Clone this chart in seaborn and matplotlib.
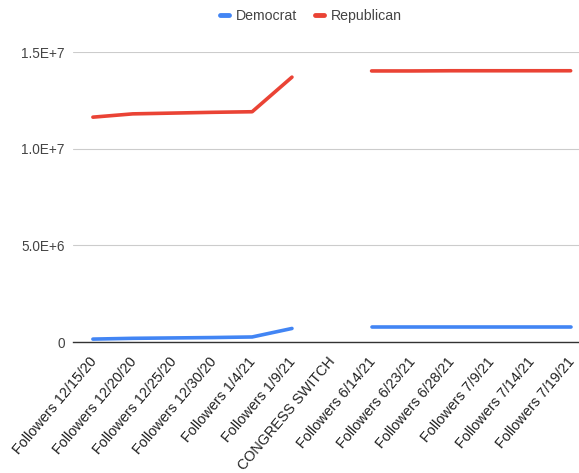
## Followers by party, before and after the congress switch

## Imports
import numpy as np
import pandas as pd
import seaborn as sns
import matplotlib.pyplot as plt
from matplotlib.ticker import FixedLocator

## Data
categories = ['Followers 12/15/20', 'Followers 12/20/20', 'Followers 12/25/20',
              'Followers 12/30/20', 'Followers 1/4/21', 'Followers 1/9/21',
              'CONGRESS SWITCH', 'Followers 6/14/21', 'Followers 6/23/21',
              'Followers 6/28/21', 'Followers 7/9/21', 'Followers 7/14/21',
              'Followers 7/19/21']
democrat = [0.15e6, 0.19e6, 0.21e6, 0.23e6, 0.26e6, 0.70e6, np.nan,
            0.78e6, 0.78e6, 0.78e6, 0.78e6, 0.78e6, 0.78e6]
republican = [11.63e6, 11.80e6, 11.84e6, 11.88e6, 11.91e6, 13.70e6, np.nan,
              14.02e6, 14.02e6, 14.03e6, 14.03e6, 14.03e6, 14.03e6]
y_ticks = [0, 5e6, 10e6, 15e6]
y_labels = ['0', '5.0E+6', '1.0E+7', '1.5E+7']

## Long table, one unit per unbroken stretch so the gap stays open
rows = []
for party, vals in [('Democrat', democrat), ('Republican', republican)]:
    seg = 0
    for i, v in enumerate(vals):
        if np.isnan(v):
            seg += 1
            continue
        rows.append({'pos': i, 'value': v, 'party': party, 'seg': party + str(seg)})
df = pd.DataFrame(rows)

sns.set_style('white')
plt.rcParams['font.family'] = ['Liberation Sans', 'DejaVu Sans']

fig = plt.figure(figsize=(5.79, 4.73), dpi=100)
ax = fig.add_axes([73 / 579, 1 - 342 / 473, 1 - 73 / 579, (342 - 52) / 473])

sns.lineplot(data=df, x='pos', y='value', hue='party', units='seg',
             estimator=None, palette={'Democrat': '#4285F4', 'Republican': '#EA4335'},
             linewidth=2.6, ax=ax, legend=False)

## category bands ~39.8px wide, the last one cut off by the right edge
ax.set_xlim(-0.5, 12.21)
ax.set_ylim(0, 15e6)
ax.yaxis.set_major_locator(FixedLocator(y_ticks))
ax.set_yticklabels(y_labels, fontsize=9.8, color='#444444')
## ticks are hidden; nudge label anchors a touch left so the last one fits
ax.set_xticks(np.arange(len(categories)) - 0.1)
ax.set_xticklabels(categories, rotation=50, ha='right', rotation_mode='anchor',
                   fontsize=10.4, color='#222222')
ax.tick_params(axis='both', length=0, pad=6)
ax.tick_params(axis='x', pad=9)
ax.set_xlabel('')
ax.set_ylabel('')
ax.grid(axis='y', color='#cccccc', linewidth=0.8)
ax.set_axisbelow(True)
for s in ['top', 'right', 'left']:
    ax.spines[s].set_visible(False)
ax.spines['bottom'].set_color('#333333')
ax.spines['bottom'].set_linewidth(1.0)
ax.spines['bottom'].set_zorder(3)

## Legend on top, centred
handles = [plt.Line2D([], [], color='#4285F4', linewidth=3.5),
           plt.Line2D([], [], color='#EA4335', linewidth=3.5)]
fig.legend(handles, ['Democrat', 'Republican'], loc='center',
           bbox_to_anchor=(311 / 579, 1 - 16 / 473), ncol=2, frameon=False,
           fontsize=10.2, handlelength=0.6, handletextpad=0.5, columnspacing=1.3,
           labelcolor='#444444')

plt.savefig('out.png', dpi=100)
